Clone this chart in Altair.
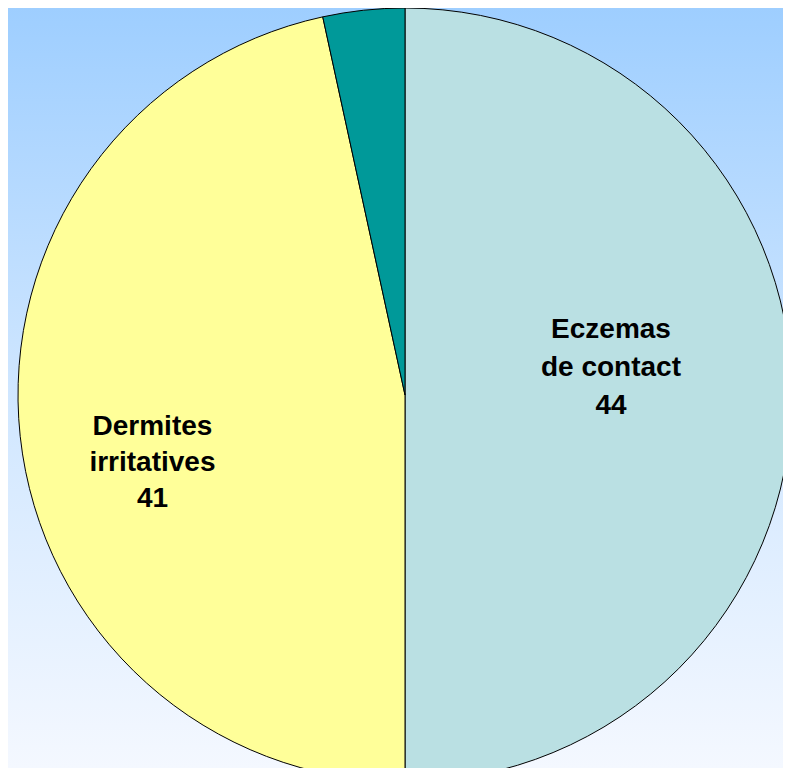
import altair as alt
import pandas as pd

categories = ["Eczemas de contact", "Dermites irritatives", "Autres"]
values = [44, 41, 3]
label_texts = ["Eczemas\nde contact\n44", "Dermites\nirritatives\n41", ""]
slice_colors = ["#BAE0E3", "#FFFF99", "#009999"]

W, H = 775, 760
CX, CY, R = 397, 387, 387
TOTAL = sum(values)

df = pd.DataFrame({
    "cat": categories,
    "value": values,
    "label": label_texts,
    "order": list(range(len(categories))),
})

bg_df = pd.DataFrame({"k": [0]})
background = alt.Chart(bg_df).mark_rect(
    color=alt.Gradient(
        gradient="linear",
        stops=[alt.GradientStop(color="#9ECEFF", offset=0),
               alt.GradientStop(color="#CFE6FF", offset=0.5),
               alt.GradientStop(color="#F4F8FF", offset=1)],
        x1=0, x2=0, y1=0, y2=1,
    )
).encode(x=alt.value(0), x2=alt.value(W), y=alt.value(0), y2=alt.value(H))

pie = alt.Chart(df).mark_arc(radius=R, stroke="black", strokeWidth=1).encode(
    theta=alt.Theta("value:Q", stack=True),
    order=alt.Order("order:Q", sort="ascending"),
    color=alt.Color("cat:N", scale=alt.Scale(domain=categories, range=slice_colors), legend=None),
    x=alt.value(CX), y=alt.value(CY),
)

label_base = alt.Chart(df).transform_window(
    cum="sum(value)", sort=[alt.SortField("order", order="ascending")]
).transform_calculate(
    mid="datum.cum - datum.value / 2"
).encode(
    theta=alt.Theta("mid:Q", scale=alt.Scale(domain=[0, TOTAL], zero=True)),
    text="label:N", x=alt.value(CX), y=alt.value(CY),
)

text_style = dict(fontSize=28, fontWeight="bold", font="Liberation Sans", lineBreak="\n",
                  align="center", baseline="middle", color="black")

lab1 = label_base.mark_text(radius=206, dy=-65, lineHeight=38, **text_style).transform_filter(
    alt.datum.cat == categories[0])
lab2 = label_base.mark_text(radius=254, dy=5, lineHeight=36, **text_style).transform_filter(
    alt.datum.cat == categories[1])

chart = alt.layer(background, pie, lab1, lab2).properties(
    width=W, height=H, padding=0, autosize="none"
).configure_view(stroke=None)

chart.save("out.html", embed_options={"renderer": "svg", "actions": False})
